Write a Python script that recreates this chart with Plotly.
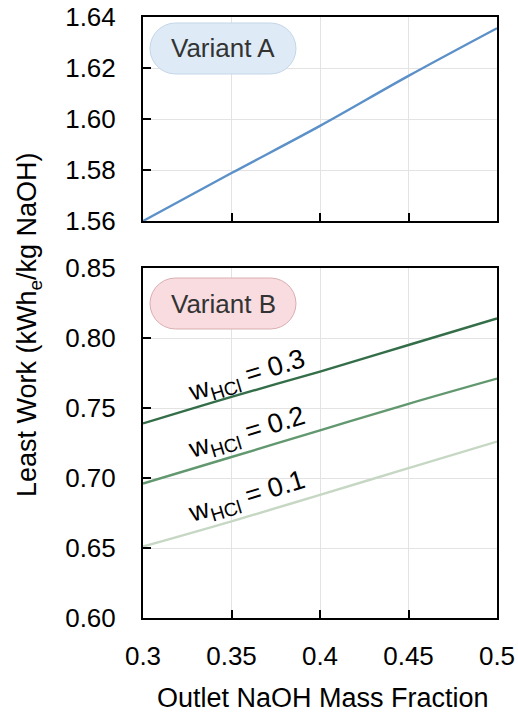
import plotly.graph_objects as go
import math

# ---- data ----
x_vals = [0.30, 0.35, 0.40, 0.45, 0.50]
variant_a = [1.560, 1.5788, 1.5973, 1.6169, 1.6356]
w_hcl_levels = [0.3, 0.2, 0.1]
variant_b = {
    0.3: [0.739, 0.758, 0.776, 0.795, 0.814],
    0.2: [0.696, 0.715, 0.734, 0.753, 0.771],
    0.1: [0.651, 0.669, 0.688, 0.707, 0.726],
}
b_colors = {0.3: "#336e48", 0.2: "#62986f", 0.1: "#c6d8c4"}
x_ticks = [0.3, 0.35, 0.4, 0.45, 0.5]
x_ticktext = ["0.3", "0.35", "0.4", "0.45", "0.5"]
ya_ticks = [1.56, 1.58, 1.60, 1.62, 1.64]
yb_ticks = [0.60, 0.65, 0.70, 0.75, 0.80, 0.85]

W, H = 518, 717
ML, MR, MT, MB = 143, 21, 17, 99
PW, PH = W - ML - MR, H - MT - MB
top_dom = [(618 - 221) / PH, 1.0]
bot_dom = [0.0, (618 - 268) / PH]

FONT = "Liberation Sans, Arial, sans-serif"
TICK = dict(family=FONT, size=26, color="black")

fig = go.Figure()
fig.add_trace(go.Scatter(x=x_vals, y=variant_a, mode="lines",
                         line=dict(color="#5b90c8", width=2.4, shape="spline", smoothing=1.0),
                         xaxis="x2", yaxis="y2", showlegend=False))
for w in w_hcl_levels:
    fig.add_trace(go.Scatter(x=x_vals, y=variant_b[w], mode="lines",
                             line=dict(color=b_colors[w], width=2.4, shape="spline", smoothing=1.0),
                             xaxis="x", yaxis="y", showlegend=False))

axis_common = dict(showline=True, linecolor="black", linewidth=2, mirror=True,
                   ticks="inside", ticklen=8, tickwidth=2, tickcolor="black",
                   showgrid=True, gridcolor="#e3e3e3", gridwidth=1,
                   zeroline=False, tickfont=TICK, automargin=False)

fig.update_layout(
    width=W, height=H,
    margin=dict(l=ML, r=MR, t=MT, b=MB),
    paper_bgcolor="white", plot_bgcolor="white",
    xaxis=dict(range=[0.3, 0.5], tickvals=x_ticks, ticktext=x_ticktext,
               anchor="y", ticklabelstandoff=14, **axis_common),
    xaxis2=dict(range=[0.3, 0.5], tickvals=x_ticks, showticklabels=False,
                anchor="y2", matches="x", **axis_common),
    yaxis=dict(range=[0.60, 0.85], tickvals=yb_ticks, tickformat=".2f",
               domain=bot_dom, anchor="x", ticklabelstandoff=20, **axis_common),
    yaxis2=dict(range=[1.56, 1.64], tickvals=ya_ticks, tickformat=".2f",
                domain=top_dom, anchor="x2", ticklabelstandoff=20, **axis_common),
)


def px_to_paper(px, py):
    return (px - ML) / PW, (618 - py) / PH


# axis titles
tx, ty = px_to_paper(29, 325)
fig.add_annotation(text="Least Work (kWh<sub>e</sub>/kg NaOH)", textangle=-90,
                   xref="paper", yref="paper", x=tx, y=ty,
                   xanchor="center", yanchor="middle",
                   showarrow=False, font=dict(family=FONT, size=27, color="black"))
tx, ty = px_to_paper(323, 698)
fig.add_annotation(text="Outlet NaOH Mass Fraction",
                   xref="paper", yref="paper", x=tx, y=ty,
                   xanchor="center", yanchor="middle",
                   showarrow=False, font=dict(family=FONT, size=27, color="black"))


def pill_path(x0, y0, x1, y1, n=14):
    r = (y1 - y0) / 2
    cy = (y0 + y1) / 2
    pts = []
    for i in range(n + 1):
        a = -math.pi / 2 + math.pi * i / n
        pts.append((x1 - r + r * math.cos(a), cy + r * math.sin(a)))
    for i in range(n + 1):
        a = math.pi / 2 + math.pi * i / n
        pts.append((x0 + r + r * math.cos(a), cy + r * math.sin(a)))
    pp = [px_to_paper(*p) for p in pts]
    return "M " + " L ".join(f"{a:.5f},{b:.5f}" for a, b in pp) + " Z"


for (box, fill, edge, label) in [
    ((150, 23, 296, 74), "#deebf7", "#c3d6e6", "Variant A"),
    ((150, 278, 296, 329), "#f8dcdf", "#d9aeb2", "Variant B"),
]:
    fig.add_shape(type="path", path=pill_path(*box), xref="paper", yref="paper",
                  fillcolor=fill, line=dict(color=edge, width=1), layer="above")
    cx, cy = px_to_paper((box[0] + box[2]) / 2, (box[1] + box[3]) / 2)
    fig.add_annotation(text=label, x=cx, y=cy, xref="paper", yref="paper",
                       xanchor="center", yanchor="middle",
                       showarrow=False, font=dict(family=FONT, size=26, color="#333333"))

# curve labels
label_pos = {0.3: (247, 377), 0.2: (247, 434), 0.1: (247, 498)}
for w in w_hcl_levels:
    lx, ly = px_to_paper(*label_pos[w])
    fig.add_annotation(text=f"w<sub>HCl</sub> = {w}", x=lx, y=ly,
                       xref="paper", yref="paper", textangle=-17,
                       xanchor="center", yanchor="middle",
                       showarrow=False, font=dict(family=FONT, size=27, color="black"))

fig.write_html("out.html", config={"displayModeBar": False},
               post_script="document.body.style.margin='0';")
